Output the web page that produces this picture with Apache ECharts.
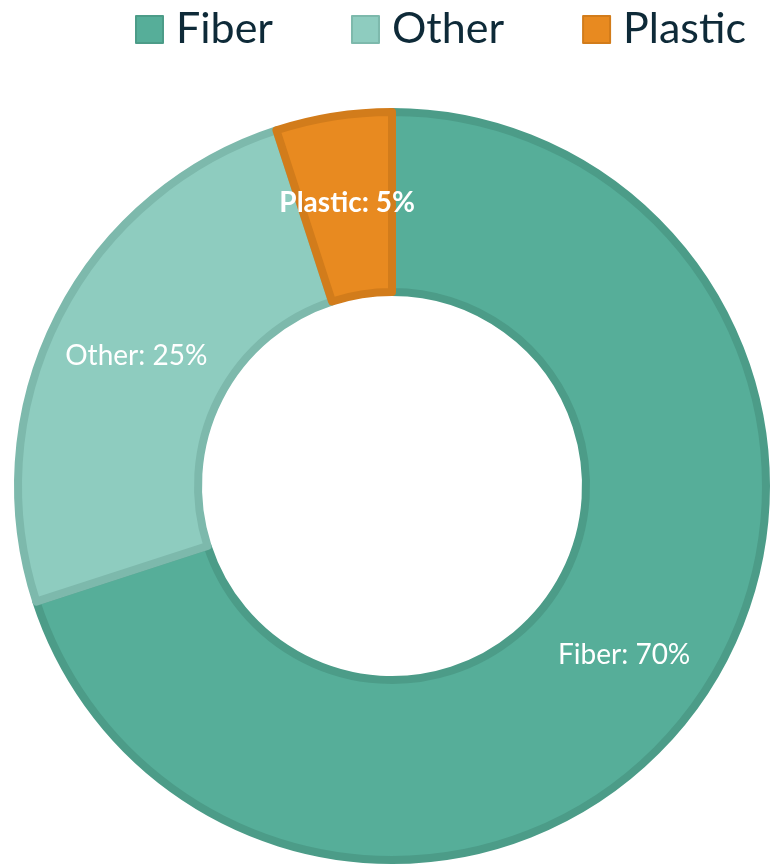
<!DOCTYPE html>
<html>
<head>
<meta charset="utf-8">
<script src="https://cdn.jsdelivr.net/npm/echarts@6/dist/echarts.min.js"></script>
<style>
html,body{margin:0;padding:0;background:#fff;}
#chart{width:774px;height:868px;}
</style>
</head>
<body>
<div id="chart"></div>
<script>
var categories = ['Fiber', 'Other', 'Plastic'];
var values = [70, 25, 5];
var fillColors = ['#56AE99', '#8ECCBF', '#E88A20'];
var borderColors = ['#4C9C88', '#7DB9AC', '#D27C1B'];
var labelBold = [false, false, true];

var chart = echarts.init(document.getElementById('chart'), null, {renderer: 'canvas'});
var data = categories.map(function (c, i) {
  return {
    name: c,
    value: values[i],
    itemStyle: {color: fillColors[i], borderColor: borderColors[i]},
    label: {fontWeight: labelBold[i] ? 'bold' : 'normal'}
  };
});
chart.setOption({
  animation: false,
  legend: {
    top: 8,
    left: 135,
    width: 639,
    padding: 0,
    itemWidth: 27,
    itemHeight: 27,
    itemGap: 78,
    icon: 'rect',
    textStyle: {fontFamily: 'Lato', fontSize: 43, color: '#0E2A38', padding: [0, 0, 0, 8]},
    data: categories
  },
  series: [{
    type: 'pie',
    center: [392, 486],
    radius: [194, 374],
    startAngle: 90,
    clockwise: true,
    itemStyle: {borderWidth: 8, borderJoin: 'round'},
    label: {
      show: true,
      position: 'inside',
      formatter: '{b}: {c}%',
      color: '#ffffff',
      fontFamily: 'Lato',
      fontSize: 28
    },
    labelLine: {show: false},
    emphasis: {disabled: true},
    data: data
  }]
});
</script>
</body>
</html>
